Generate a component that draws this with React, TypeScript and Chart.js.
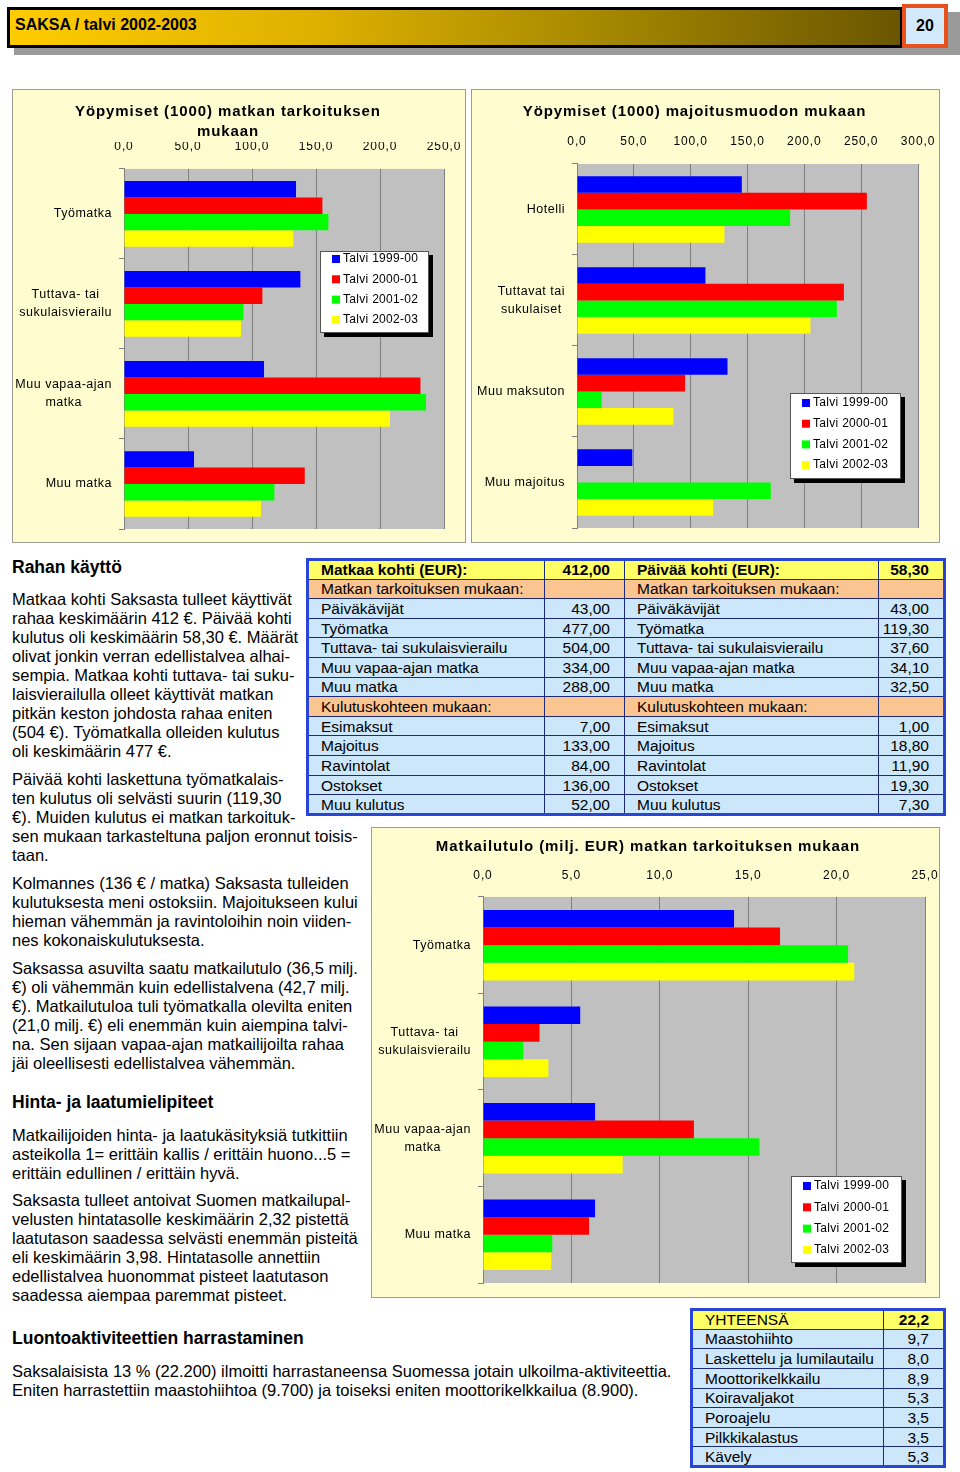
import React, { useEffect, useRef } from 'react';
import { Chart, registerables } from 'chart.js';

Chart.register(...registerables);

const FONT = '"Liberation Sans", Arial, Helvetica, sans-serif';
Chart.defaults.font.family = FONT;
Chart.defaults.color = '#000';

// ---------------- data ----------------
const SEASONS = ['Talvi 1999-00', 'Talvi 2000-01', 'Talvi 2001-02', 'Talvi 2002-03'];
const SEASON_COLORS = ['#0000ff', '#ff0000', '#00ff00', '#ffff00'];

// Chart 1: Yöpymiset (1000) matkan tarkoituksen mukaan
const PURPOSE_LABELS = [['Työmatka'], ['Tuttava- tai', 'sukulaisvierailu'], ['Muu vapaa-ajan', 'matka'], ['Muu matka']];
const NIGHTS_PURPOSE_9900 = [134.4, 137.8, 109.4, 54.7];
const NIGHTS_PURPOSE_0001 = [155.0, 108.1, 231.6, 141.2];
const NIGHTS_PURPOSE_0102 = [159.7, 93.3, 236.0, 117.5];
const NIGHTS_PURPOSE_0203 = [132.3, 91.4, 207.8, 107.0];
const NIGHTS_PURPOSE_TICKS = [0, 50, 100, 150, 200, 250];

// Chart 2: Yöpymiset (1000) majoitusmuodon mukaan
const ACCOM_LABELS = [['Hotelli'], ['Tuttavat tai', 'sukulaiset'], ['Muu maksuton'], ['Muu majoitus']];
const NIGHTS_ACCOM_9900 = [145.0, 113.0, 132.4, 48.7];
const NIGHTS_ACCOM_0001 = [255.0, 234.8, 95.1, null];
const NIGHTS_ACCOM_0102 = [187.5, 228.6, 21.7, 170.5];
const NIGHTS_ACCOM_0203 = [129.7, 205.4, 84.8, 119.8];
const NIGHTS_ACCOM_TICKS = [0, 50, 100, 150, 200, 250, 300];

// Chart 3: Matkailutulo (milj. EUR) matkan tarkoituksen mukaan
const INCOME_LABELS = [['Työmatka'], ['Tuttava- tai', 'sukulaisvierailu'], ['Muu vapaa-ajan', 'matka'], ['Muu matka']];
const INCOME_9900 = [14.2, 5.5, 6.34, 6.34];
const INCOME_0001 = [16.8, 3.2, 11.93, 6.0];
const INCOME_0102 = [20.65, 2.28, 15.63, 3.92];
const INCOME_0203 = [21.0, 3.7, 7.9, 3.86];
const INCOME_TICKS = [0, 5, 10, 15, 20, 25];

// Spending table
const SPEND_PER_TRIP_TOTAL = '412,00';
const SPEND_PER_DAY_TOTAL = '58,30';
const SPEND_PURPOSE_ROWS = ['Päiväkävijät', 'Työmatka', 'Tuttava- tai sukulaisvierailu', 'Muu vapaa-ajan matka', 'Muu matka'];
const SPEND_PURPOSE_TRIP = ['43,00', '477,00', '504,00', '334,00', '288,00'];
const SPEND_PURPOSE_DAY = ['43,00', '119,30', '37,60', '34,10', '32,50'];
const SPEND_ITEM_ROWS = ['Esimaksut', 'Majoitus', 'Ravintolat', 'Ostokset', 'Muu kulutus'];
const SPEND_ITEM_TRIP = ['7,00', '133,00', '84,00', '136,00', '52,00'];
const SPEND_ITEM_DAY = ['1,00', '18,80', '11,90', '19,30', '7,30'];

// Activities table
const ACTIVITY_TOTAL = '22,2';
const ACTIVITIES = ['Maastohiihto', 'Laskettelu ja lumilautailu', 'Moottorikelkkailu', 'Koiravaljakot', 'Poroajelu', 'Pilkkikalastus', 'Kävely'];
const ACTIVITY_VALUES = ['9,7', '8,0', '8,9', '5,3', '3,5', '3,5', '5,3'];

// ---------------- styles ----------------
const PANEL_BG = '#fffcd0';
const PLOT_BG = '#c0c0c0';
const GRID = '#808080';
const BLUE_CELL = '#cce6fa';
const ORANGE_CELL = '#fbc592';
const YELLOW_CELL = '#ffff66';

type LegendBox = { x: number; y: number; w: number; h: number; first: number; gap: number };
type PanelSpec = {
  left: number; top: number; width: number; height: number;
  title: string[]; titlePadTop: number;
  labels: string[][]; series: (number | null)[][]; ticks: number[];
  yWidth: number; xHeight: number; tickPad: number; padRight: number; padBottom: number;
  legend: LegendBox;
};

function fmt(v: number) {
  return Number(v).toFixed(1).replace('.', ',');
}

function BarPanel({ spec }: { spec: PanelSpec }) {
  const ref = useRef<HTMLCanvasElement | null>(null);
  useEffect(() => {
    const s = spec;
    const canvas = ref.current as HTMLCanvasElement;
    const panelPlugin = {
      id: 'panelDeco',
      beforeDraw(chart: any) {
        const { ctx, width, height, chartArea: a } = chart;
        ctx.save();
        ctx.fillStyle = PANEL_BG;
        ctx.fillRect(0, 0, width, height);
        ctx.strokeStyle = '#9c9c90';
        ctx.lineWidth = 1;
        ctx.strokeRect(0.5, 0.5, width - 1, height - 1);
        ctx.fillStyle = PLOT_BG;
        ctx.fillRect(a.left, a.top, a.right - a.left, a.bottom - a.top);
        ctx.restore();
        (ctx as any).letterSpacing = '0.9px';
      },
      afterDraw(chart: any) {
        const { ctx, chartArea: a } = chart;
        const yScale = chart.scales.y;
        ctx.save();
        (ctx as any).letterSpacing = '0.5px';
        ctx.font = `12.5px ${FONT}`;
        ctx.fillStyle = '#000';
        ctx.textBaseline = 'middle';
        ctx.textAlign = 'center';
        (chart.data.labels as string[][]).forEach((lines, i) => {
          const y = yScale.getPixelForValue(i);
          const w = Math.max(...lines.map((l) => ctx.measureText(l).width));
          const cx = a.left - 12 - w / 2;
          lines.forEach((l, j) => ctx.fillText(l, cx, y + (j - (lines.length - 1) / 2) * 18));
        });
        // legend
        const L = s.legend;
        ctx.fillStyle = '#000';
        ctx.fillRect(L.x + 4, L.y + 4, L.w, L.h);
        ctx.fillStyle = '#fff';
        ctx.fillRect(L.x, L.y, L.w, L.h);
        ctx.strokeStyle = '#555';
        ctx.lineWidth = 1;
        ctx.strokeRect(L.x + 0.5, L.y + 0.5, L.w - 1, L.h - 1);
        (ctx as any).letterSpacing = '0.3px';
        ctx.font = `12px ${FONT}`;
        ctx.textAlign = 'left';
        chart.data.datasets.forEach((ds: any, i: number) => {
          const cy = L.y + L.first + i * L.gap;
          ctx.fillStyle = ds.backgroundColor;
          ctx.fillRect(L.x + 12, cy - 4, 8, 8);
          ctx.fillStyle = '#000';
          ctx.fillText(ds.label, L.x + 23, cy);
        });
        ctx.restore();
      },
    };
    const chart = new Chart(canvas, {
      type: 'bar',
      data: {
        labels: s.labels as any,
        datasets: SEASONS.map((label, i) => ({
          label,
          data: s.series[i] as any,
          backgroundColor: SEASON_COLORS[i],
          borderWidth: 0,
          barPercentage: 1,
          categoryPercentage: 0.73,
        })),
      },
      options: {
        indexAxis: 'y',
        responsive: false,
        animation: false,
        devicePixelRatio: 1,
        layout: { padding: { left: 0, top: 0, right: s.padRight, bottom: s.padBottom } },
        plugins: {
          legend: { display: false },
          tooltip: { enabled: false },
          title: {
            display: true,
            text: s.title,
            color: '#000',
            font: { size: 15, weight: 'bold', lineHeight: 1.33, family: FONT },
            padding: { top: s.titlePadTop, bottom: 0 },
          },
        },
        scales: {
          x: {
            type: 'linear',
            position: 'top',
            min: s.ticks[0],
            max: s.ticks[s.ticks.length - 1],
            ticks: {
              stepSize: s.ticks[1] - s.ticks[0],
              callback: (v: any) => fmt(v),
              padding: s.tickPad,
              maxRotation: 0,
              autoSkip: false,
              color: '#000',
              font: { size: 12 },
            },
            grid: { color: GRID, drawTicks: false, lineWidth: 1 },
            border: { display: false },
            afterFit: (sc: any) => {
              sc.height = s.xHeight;
              sc.paddingLeft = 0;
              sc.paddingRight = 0;
            },
          },
          y: {
            type: 'category',
            ticks: { display: false },
            grid: { display: true, drawOnChartArea: false, drawTicks: true, tickLength: 5, color: GRID, offset: true },
            border: { display: true, color: GRID },
            afterFit: (sc: any) => {
              sc.width = s.yWidth;
              sc.paddingTop = 0;
              sc.paddingBottom = 0;
            },
          },
        },
      } as any,
      plugins: [panelPlugin],
    });
    return () => chart.destroy();
  }, [spec]);
  return (
    <canvas
      ref={ref}
      width={spec.width}
      height={spec.height}
      style={{ position: 'absolute', left: spec.left, top: spec.top, width: spec.width, height: spec.height }}
    />
  );
}

const CHART_PURPOSE: PanelSpec = {
  left: 12, top: 89, width: 454, height: 454,
  title: ['Yöpymiset (1000) matkan tarkoituksen', 'mukaan'], titlePadTop: 13,
  labels: PURPOSE_LABELS,
  series: [NIGHTS_PURPOSE_9900, NIGHTS_PURPOSE_0001, NIGHTS_PURPOSE_0102, NIGHTS_PURPOSE_0203],
  ticks: NIGHTS_PURPOSE_TICKS,
  yWidth: 112, xHeight: 27, tickPad: 15, padRight: 22, padBottom: 14,
  legend: { x: 308, y: 162, w: 109, h: 82, first: 8, gap: 20.3 },
};

const CHART_ACCOM: PanelSpec = {
  left: 471, top: 89, width: 469, height: 454,
  title: ['Yöpymiset (1000) majoitusmuodon mukaan'], titlePadTop: 13,
  labels: ACCOM_LABELS,
  series: [NIGHTS_ACCOM_9900, NIGHTS_ACCOM_0001, NIGHTS_ACCOM_0102, NIGHTS_ACCOM_0203],
  ticks: NIGHTS_ACCOM_TICKS,
  yWidth: 106, xHeight: 42, tickPad: 15, padRight: 22, padBottom: 15,
  legend: { x: 319, y: 304, w: 111, h: 86, first: 10, gap: 20.7 },
};

const CHART_INCOME: PanelSpec = {
  left: 371, top: 827, width: 569, height: 471,
  title: ['Matkailutulo (milj. EUR) matkan tarkoituksen mukaan'], titlePadTop: 10,
  labels: INCOME_LABELS,
  series: [INCOME_9900, INCOME_0001, INCOME_0102, INCOME_0203],
  ticks: INCOME_TICKS,
  yWidth: 112, xHeight: 40, tickPad: 14, padRight: 15, padBottom: 15,
  legend: { x: 420, y: 349, w: 111, h: 87, first: 10, gap: 21.3 },
};

// ---------------- text ----------------
const P1 = [
  'Matkaa kohti Saksasta tulleet käyttivät',
  'rahaa keskimäärin 412 €. Päivää kohti',
  'kulutus oli keskimäärin 58,30 €. Määrät',
  'olivat jonkin verran edellistalvea alhai-',
  'sempia. Matkaa kohti tuttava- tai suku-',
  'laisvierailulla olleet käyttivät matkan',
  'pitkän keston johdosta rahaa eniten',
  '(504 €). Työmatkalla olleiden kulutus',
  'oli keskimäärin 477 €.',
];
const P2 = [
  'Päivää kohti laskettuna työmatkalais-',
  'ten kulutus oli selvästi suurin (119,30',
  '€). Muiden kulutus ei matkan tarkoituk-',
  'sen mukaan tarkasteltuna paljon eronnut toisis-',
  'taan.',
];
const P3 = [
  'Kolmannes (136 € / matka) Saksasta tulleiden',
  'kulutuksesta meni ostoksiin. Majoitukseen kului',
  'hieman vähemmän ja ravintoloihin noin viiden-',
  'nes kokonaiskulutuksesta.',
];
const P4 = [
  'Saksassa asuvilta saatu matkailutulo (36,5 milj.',
  '€) oli vähemmän kuin edellistalvena (42,7 milj.',
  '€). Matkailutuloa tuli työmatkalla olevilta eniten',
  '(21,0 milj. €) eli enemmän kuin aiempina talvi-',
  'na. Sen sijaan vapaa-ajan matkailijoilta rahaa',
  'jäi oleellisesti edellistalvea vähemmän.',
];
const P5 = [
  'Matkailijoiden hinta- ja laatukäsityksiä tutkittiin',
  'asteikolla 1= erittäin kallis / erittäin huono...5 =',
  'erittäin edullinen / erittäin hyvä.',
];
const P6 = [
  'Saksasta tulleet antoivat Suomen matkailupal-',
  'velusten hintatasolle keskimäärin 2,32 pistettä',
  'laatutason saadessa selvästi enemmän pisteitä',
  'eli keskimäärin 3,98. Hintatasolle annettiin',
  'edellistalvea huonommat pisteet laatutason',
  'saadessa aiempaa paremmat pisteet.',
];
const P7 = [
  'Saksalaisista 13 % (22.200) ilmoitti harrastaneensa Suomessa jotain ulkoilma-aktiviteettia.',
  'Eniten harrastettiin maastohiihtoa (9.700) ja toiseksi eniten moottorikelkkailua (8.900).',
];

function Para({ top, lines }: { top: number; lines: string[] }) {
  return (
    <div style={{ position: 'absolute', left: 12, top, fontSize: 16.5, lineHeight: '19px', whiteSpace: 'nowrap' }}>
      {lines.map((l, i) => (
        <div key={i}>{l}</div>
      ))}
    </div>
  );
}

function Heading({ top, text }: { top: number; text: string }) {
  return (
    <div style={{ position: 'absolute', left: 12, top, fontSize: 17.5, lineHeight: '20px', fontWeight: 'bold', whiteSpace: 'nowrap' }}>
      {text}
    </div>
  );
}

const cell: React.CSSProperties = {
  border: '1px solid #1c2a78',
  padding: '0 6px 0 12px',
  whiteSpace: 'nowrap',
  overflow: 'hidden',
  fontSize: 15.5,
  lineHeight: '17px',
};
const numCell: React.CSSProperties = { ...cell, padding: '0 14px 0 2px', textAlign: 'right' };

function SpendTable() {
  const rowH = 19.6;
  const dataRow = (label: string, a: string, label2: string, b: string, key: string) => (
    <tr key={key} style={{ height: rowH, background: BLUE_CELL }}>
      <td style={cell}>{label}</td>
      <td style={numCell}>{a}</td>
      <td style={cell}>{label2}</td>
      <td style={numCell}>{b}</td>
    </tr>
  );
  const sectionRow = (text: string, key: string) => (
    <tr key={key} style={{ height: rowH, background: ORANGE_CELL }}>
      <td style={cell}>{text}</td>
      <td style={numCell}></td>
      <td style={cell}>{text}</td>
      <td style={numCell}></td>
    </tr>
  );
  return (
    <table
      style={{
        position: 'absolute', left: 306, top: 558, width: 637, height: 258,
        borderCollapse: 'collapse', tableLayout: 'fixed', border: '3px solid #2845d6', fontFamily: FONT,
      }}
    >
      <colgroup>
        <col style={{ width: 237 }} />
        <col style={{ width: 80 }} />
        <col style={{ width: 254 }} />
        <col style={{ width: 66 }} />
      </colgroup>
      <tbody>
        <tr style={{ height: rowH, background: YELLOW_CELL, fontWeight: 'bold' }}>
          <td style={cell}>Matkaa kohti (EUR):</td>
          <td style={numCell}>{SPEND_PER_TRIP_TOTAL}</td>
          <td style={cell}>Päivää kohti (EUR):</td>
          <td style={numCell}>{SPEND_PER_DAY_TOTAL}</td>
        </tr>
        {sectionRow('Matkan tarkoituksen mukaan:', 's1')}
        {SPEND_PURPOSE_ROWS.map((r, i) => dataRow(r, SPEND_PURPOSE_TRIP[i], r, SPEND_PURPOSE_DAY[i], 'p' + i))}
        {sectionRow('Kulutuskohteen mukaan:', 's2')}
        {SPEND_ITEM_ROWS.map((r, i) => dataRow(r, SPEND_ITEM_TRIP[i], r, SPEND_ITEM_DAY[i], 'k' + i))}
      </tbody>
    </table>
  );
}

function ActivityTable() {
  const rowH = 19.5;
  return (
    <table
      style={{
        position: 'absolute', left: 690, top: 1308, width: 253, height: 160,
        borderCollapse: 'collapse', tableLayout: 'fixed', border: '3px solid #2845d6', fontFamily: FONT,
      }}
    >
      <colgroup>
        <col style={{ width: 192 }} />
        <col style={{ width: 61 }} />
      </colgroup>
      <tbody>
        <tr style={{ height: rowH, background: YELLOW_CELL }}>
          <td style={cell}>YHTEENSÄ</td>
          <td style={{ ...numCell, fontWeight: 'bold' }}>{ACTIVITY_TOTAL}</td>
        </tr>
        {ACTIVITIES.map((a, i) => (
          <tr key={i} style={{ height: rowH, background: BLUE_CELL }}>
            <td style={cell}>{a}</td>
            <td style={numCell}>{ACTIVITY_VALUES[i]}</td>
          </tr>
        ))}
      </tbody>
    </table>
  );
}

function Header() {
  return (
    <>
      <div style={{ position: 'absolute', left: 14, top: 12, width: 946, height: 43, background: '#9a9a9a' }} />
      <div
        style={{
          position: 'absolute', left: 7, top: 7, width: 896, height: 41, boxSizing: 'border-box',
          border: '3px solid #000',
          background: 'linear-gradient(to right, #ffcc00 0%, #ddb000 35%, #a88a00 65%, #6a5600 100%)',
        }}
      >
        <span style={{ position: 'absolute', left: 5, top: 0, lineHeight: '30px', fontWeight: 'bold', fontSize: 16, whiteSpace: 'nowrap' }}>
          SAKSA / talvi 2002-2003
        </span>
      </div>
      <div
        style={{
          position: 'absolute', left: 902, top: 4, width: 46, height: 44, boxSizing: 'border-box',
          border: '4px solid #e8501c', background: '#d2e9fb', textAlign: 'center',
          lineHeight: '36px', fontWeight: 'bold', fontSize: 16,
        }}
      >
        20
      </div>
    </>
  );
}

export default function App() {
  return (
    <div
      style={{
        position: 'absolute', left: 0, top: 0, width: 960, height: 1472, background: '#fff',
        fontFamily: FONT, color: '#000', overflow: 'hidden',
      }}
    >
      <Header />
      <BarPanel spec={CHART_PURPOSE} />
      <BarPanel spec={CHART_ACCOM} />
      <Heading top={557} text="Rahan käyttö" />
      <Para top={589.5} lines={P1} />
      <Para top={769.5} lines={P2} />
      <Para top={873.5} lines={P3} />
      <Para top={958.5} lines={P4} />
      <Heading top={1092} text="Hinta- ja laatumielipiteet" />
      <Para top={1125.5} lines={P5} />
      <Para top={1190.5} lines={P6} />
      <Heading top={1328} text="Luontoaktiviteettien harrastaminen" />
      <Para top={1361.5} lines={P7} />
      <SpendTable />
      <BarPanel spec={CHART_INCOME} />
      <ActivityTable />
    </div>
  );
}
